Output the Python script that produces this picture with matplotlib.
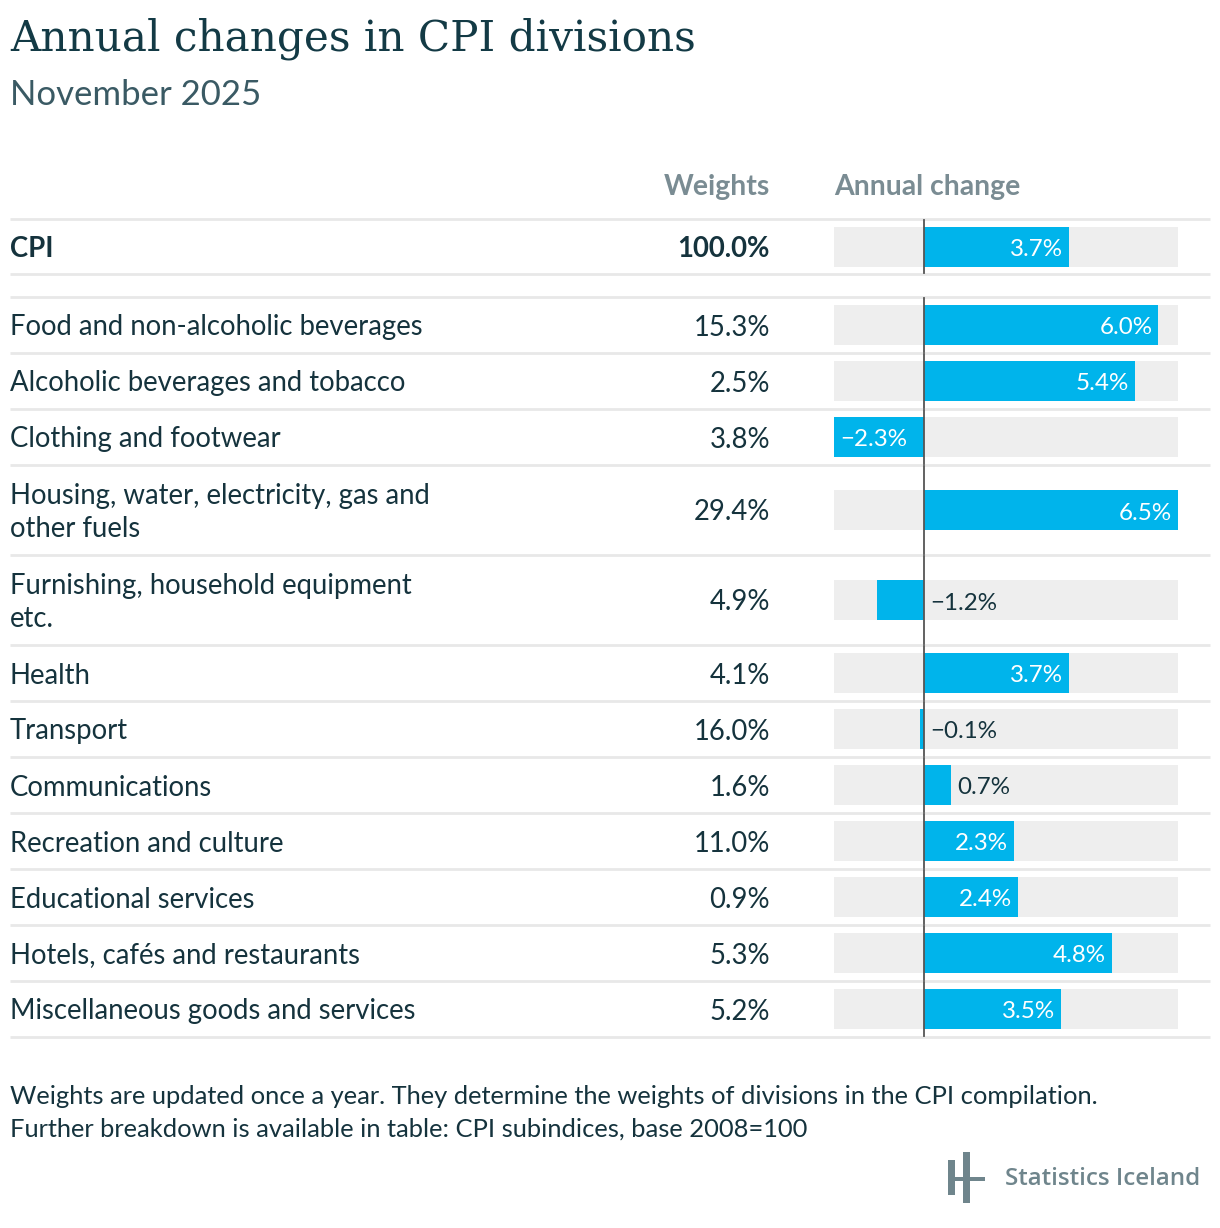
import matplotlib
matplotlib.use("Agg")
import matplotlib.pyplot as plt
from matplotlib.patches import Rectangle

# =====================================================
# Data
# =====================================================

divisions = [
    "Food and non-alcoholic beverages",
    "Alcoholic beverages and tobacco",
    "Clothing and footwear",
    "Housing, water, electricity, gas and\nother fuels",
    "Furnishing, household equipment\netc.",
    "Health",
    "Transport",
    "Communications",
    "Recreation and culture",
    "Educational services",
    "Hotels, cafés and restaurants",
    "Miscellaneous goods and services",
]

weights = [15.3, 2.5, 3.8, 29.4, 4.9, 4.1, 16.0, 1.6, 11.0, 0.9, 5.3, 5.2]
changes = [6.0, 5.4, -2.3, 6.5, -1.2, 3.7, -0.1, 0.7, 2.3, 2.4, 4.8, 3.5]

cpi_weight = 100.0
cpi_change = 3.7

title = "Annual changes in CPI divisions"
subtitle = "November 2025"
footnote = [
    "Weights are updated once a year. They determine the weights of divisions in the CPI compilation.",
    "Further breakdown is available in table: CPI subindices, base 2008=100",
]

# =====================================================
# Style
# =====================================================

W, H = 1220, 1228
BLUE = "#00b4eb"
TRACK = "#eeeeee"
DARK = "#15333d"
GREY = "#7a8c93"
SEP = "#e8e8e8"
ZERO = "#555555"

ROW_FS = 19.8
VAL_FS = 17.4

plt.rcParams["font.family"] = ["Lato", "DejaVu Sans"]

fig = plt.figure(figsize=(W / 100, H / 100), dpi=100)

# page axes in pixel coordinates
page = fig.add_axes([0, 0, 1, 1])
page.set_xlim(0, W)
page.set_ylim(H, 0)
page.axis("off")

# bar axes: value scale on x, pixel rows on y
bar_left, bar_right = 834, 1178
vmin = min(changes + [cpi_change])
vmax = max(changes + [cpi_change])
bars = fig.add_axes([bar_left / W, 0, (bar_right - bar_left) / W, 1])
bars.set_xlim(vmin, vmax)
bars.set_ylim(H, 0)
bars.axis("off")
px = (vmax - vmin) / (bar_right - bar_left)

# =====================================================
# Title block
# =====================================================

page.text(10, 51, title, fontsize=30.3, family="DejaVu Serif",
          color="#133a45", va="baseline")
page.text(10, 105, subtitle, fontsize=25, fontweight="normal",
          color="#3a5a64", va="baseline")

page.text(770, 187, "Weights", fontsize=20.4, fontweight="bold",
          color=GREY, ha="right", va="center")
page.text(834, 187, "Annual change", fontsize=20.4, fontweight="bold",
          color=GREY, ha="left", va="center")

# =====================================================
# Rows
# =====================================================

def sep(y):
    page.plot([10, 1210], [y, y], color=SEP, lw=2, solid_capstyle="butt")

def draw_row(top, height, label, weight, change, bold=False):
    c = top + height / 2
    fw = "bold" if bold else "normal"
    page.text(10, c + 2.5, label, fontsize=ROW_FS, color=DARK, fontweight=fw,
              va="center", ha="left", linespacing=1.38)
    page.text(770, c + 2.5, f"{weight:.1f}%", fontsize=ROW_FS, color=DARK,
              fontweight=fw, va="center", ha="right")

    bars.barh(c, vmax - vmin, left=vmin, height=40, color=TRACK, lw=0)
    bars.barh(c, change, left=0, height=40, color=BLUE, lw=0)
    bars.plot([0, 0], [top + 1, top + height - 1], color=ZERO, lw=1.3)

    txt = f"{change:.1f}%".replace("-", "\u2212")
    ty = c + 3
    if abs(change) >= 2:
        if change > 0:
            bars.text(change - 6 * px, ty, txt, color="white", fontsize=VAL_FS,
                      ha="right", va="center")
        else:
            bars.text(change + 6 * px, ty, txt, color="white", fontsize=VAL_FS,
                      ha="left", va="center")
    else:
        x = max(change, 0) + 6 * px
        bars.text(x, ty, txt, color=DARK, fontsize=VAL_FS, ha="left", va="center")

sep(219)
draw_row(219, 55, "CPI", cpi_weight, cpi_change, bold=True)
sep(274)

y = 297
sep(y)
for label, w, ch in zip(divisions, weights, changes):
    h = 90 if "\n" in label else 56
    draw_row(y, h, label, w, ch)
    y += h
    sep(y)

# =====================================================
# Footnote and logo
# =====================================================

page.text(10, 1097, footnote[0], fontsize=18.35, color=DARK, va="center")
page.text(10, 1129, footnote[1], fontsize=18.35, color=DARK, va="center")

LOGO = "#6f858c"
page.add_patch(Rectangle((948, 1160), 7, 35, color=LOGO, lw=0))
page.add_patch(Rectangle((963, 1152), 7, 51, color=LOGO, lw=0))
page.add_patch(Rectangle((948, 1177), 37, 4, color=LOGO, lw=0))
page.text(1200, 1179, "Statistics Iceland", fontsize=17.4, color=LOGO,
          family=["Open Sans", "DejaVu Sans"], fontweight="semibold",
          ha="right", va="center")

fig.savefig("out.png", dpi=100)
